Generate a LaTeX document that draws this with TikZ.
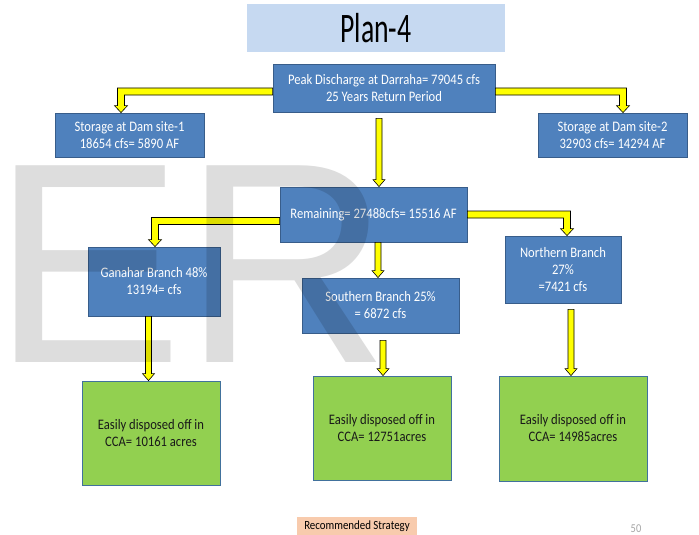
\documentclass[tikz,border=0pt]{standalone}
\usepackage{fontspec}
\setmainfont{Carlito}[FakeStretch=0.87]
\newfontfamily\titlefont{Carlito}[FakeStretch=0.66]
\newfontfamily\markfont{Liberation Sans}
\usetikzlibrary{calc}

\definecolor{boxblue}{HTML}{4F81BD}
\definecolor{boxblueline}{HTML}{385D8A}
\definecolor{boxgreen}{HTML}{92D050}
\definecolor{boxgreenline}{HTML}{41719C}
\definecolor{titleblue}{HTML}{C6D9F1}
\definecolor{notepeach}{HTML}{F8CBAD}
\definecolor{markgray}{HTML}{DDDDDD}
\definecolor{pagegray}{HTML}{A6A6A6}
\definecolor{flowyellow}{HTML}{FFFF00}

\tikzset{
  bluebox/.style={rectangle, fill=boxblue, draw=boxblueline, line width=0.8pt,
    text=white, align=center, inner sep=0pt,
    font=\fontsize{14.5}{17}\selectfont},
  greenbox/.style={rectangle, fill=boxgreen, draw=boxgreenline, line width=0.8pt,
    text=black!90, align=center, inner sep=0pt,
    font=\fontsize{14.5}{17}\selectfont},
  flow/.style={fill=flowyellow, draw=black, line width=0.6pt, line join=miter},
}

% elbow block arrow: #1 start on the source side, #2 tip point, #3 = +1 (right) or -1 (left)
\newcommand{\elbowflow}[3]{%
  \draw[flow] let \p1=(#1), \p2=(#2) in
    (\x1,\y1+3.5pt) -- ({\x2+(#3)*3.5pt},\y1+3.5pt) -- ({\x2+(#3)*3.5pt},\y2+7pt)
    -- ({\x2+(#3)*6.5pt},\y2+7pt) -- (\x2,\y2) -- ({\x2-(#3)*6.5pt},\y2+7pt)
    -- ({\x2-(#3)*3.5pt},\y2+7pt) -- ({\x2-(#3)*3.5pt},\y1-3.5pt) -- (\x1,\y1-3.5pt) -- cycle;}
% straight downward block arrow: #1 start point, #2 target node
\newcommand{\downflow}[2]{%
  \draw[flow] let \p1=(#1), \p2=(#1 |- #2.north) in
    (\x1-3pt,\y1) -- (\x1-3pt,\y2+7pt) -- (\x1-6pt,\y2+7pt) -- (\x2,\y2)
    -- (\x1+6pt,\y2+7pt) -- (\x1+3pt,\y2+7pt) -- (\x1+3pt,\y1) -- cycle;}

\begin{document}
\begin{tikzpicture}[x=1pt, y=-1pt]
  \fill[white] (0,0) rectangle (699,535);
  \useasboundingbox (0,0) rectangle (699,535);

  % title banner
  \node[rectangle, fill=titleblue, minimum width=258pt, minimum height=48pt, inner sep=0pt,
        font=\titlefont\fontsize{42}{42}\selectfont] (title) at (376,28) {Plan-4};

  % flow boxes
  \node[bluebox, minimum width=222pt, minimum height=48pt] (peak) at (384,88)
    {Peak Discharge at Darraha= 79045 cfs\\25 Years Return Period};
  \node[bluebox, minimum width=149pt, minimum height=44pt] (dam1) at (129.5,135)
    {Storage at Dam site-1\\18654 cfs= 5890 AF};
  \node[bluebox, minimum width=149pt, minimum height=44pt] (dam2) at (612.5,135)
    {Storage at Dam site-2\\32903 cfs= 14294 AF};
  \node[bluebox, minimum width=187pt, minimum height=55pt] (rem) at (373.5,214.5)
    {Remaining= 27488cfs= 15516 AF};
  \node[bluebox, minimum width=132pt, minimum height=69pt] (gan) at (154,281.5)
    {Ganahar Branch 48\%\\13194= cfs};
  \node[bluebox, minimum width=157pt, minimum height=55pt] (sou) at (380.5,305.5)
    {Southern Branch 25\%\\= 6872 cfs};
  \node[bluebox, minimum width=116pt, minimum height=67pt] (nor) at (563,269.5)
    {Northern Branch\\27\%\\=7421 cfs};

  \node[greenbox, minimum width=138pt, minimum height=104pt] (cca1) at (151,433)
    {Easily disposed off in\\CCA= 10161 acres};
  \node[greenbox, minimum width=138pt, minimum height=104pt] (cca2) at (382,428)
    {Easily disposed off in\\CCA= 12751acres};
  \node[greenbox, minimum width=148pt, minimum height=105pt] (cca3) at (573,428.5)
    {Easily disposed off in\\CCA= 14985acres};

  % footer
  \node[rectangle, fill=notepeach, minimum width=120pt, minimum height=19pt, inner sep=0pt,
        font=\fontsize{12.5}{14}\selectfont] (note) at (357,526.5) {Recommended Strategy};
  \node[text=pagegray, inner sep=0pt, font=\fontsize{12}{14}\selectfont] (page) at (636,529) {50};

  % arrow anchor points
  \coordinate (pl) at ($(peak.west)+(0,3.5)$);
  \coordinate (pr) at ($(peak.east)+(0,3.5)$);
  \coordinate (t1) at ($(dam1.north)+(-8.5,0)$);
  \coordinate (t2) at ($(dam2.north)+(10.5,0)$);
  \coordinate (rl) at ($(rem.west)+(0,6.5)$);
  \coordinate (rr) at (rem.east);
  \coordinate (tg) at ($(gan.north)+(1,0)$);
  \coordinate (tn) at ($(nor.north)+(4,0)$);
  \coordinate (pd) at ($(peak.south)+(-5,6)$);
  \coordinate (rd) at ($(rem.south)+(4.5,0)$);
  \coordinate (gd) at ($(gan.south)+(-5.5,0)$);
  \coordinate (sd) at ($(sou.south)+(2.5,7)$);
  \coordinate (nd) at ($(nor.south)+(8,6)$);

  % arrows
  \elbowflow{pl}{t1}{-1}
  \elbowflow{pr}{t2}{1}
  \elbowflow{rl}{tg}{-1}
  \elbowflow{rr}{tn}{1}
  \downflow{pd}{rem}
  \downflow{rd}{sou}
  \downflow{gd}{cca1}
  \downflow{sd}{cca2}
  \downflow{nd}{cca3}

  % large watermark letters
  \begin{scope}[blend mode=multiply]
    \node[anchor=base west, inner sep=0pt, text=markgray,
          font=\markfont\fontsize{286}{286}\selectfont] (mark) at (-7.6,362) {ER};
  \end{scope}
\end{tikzpicture}
\end{document}
